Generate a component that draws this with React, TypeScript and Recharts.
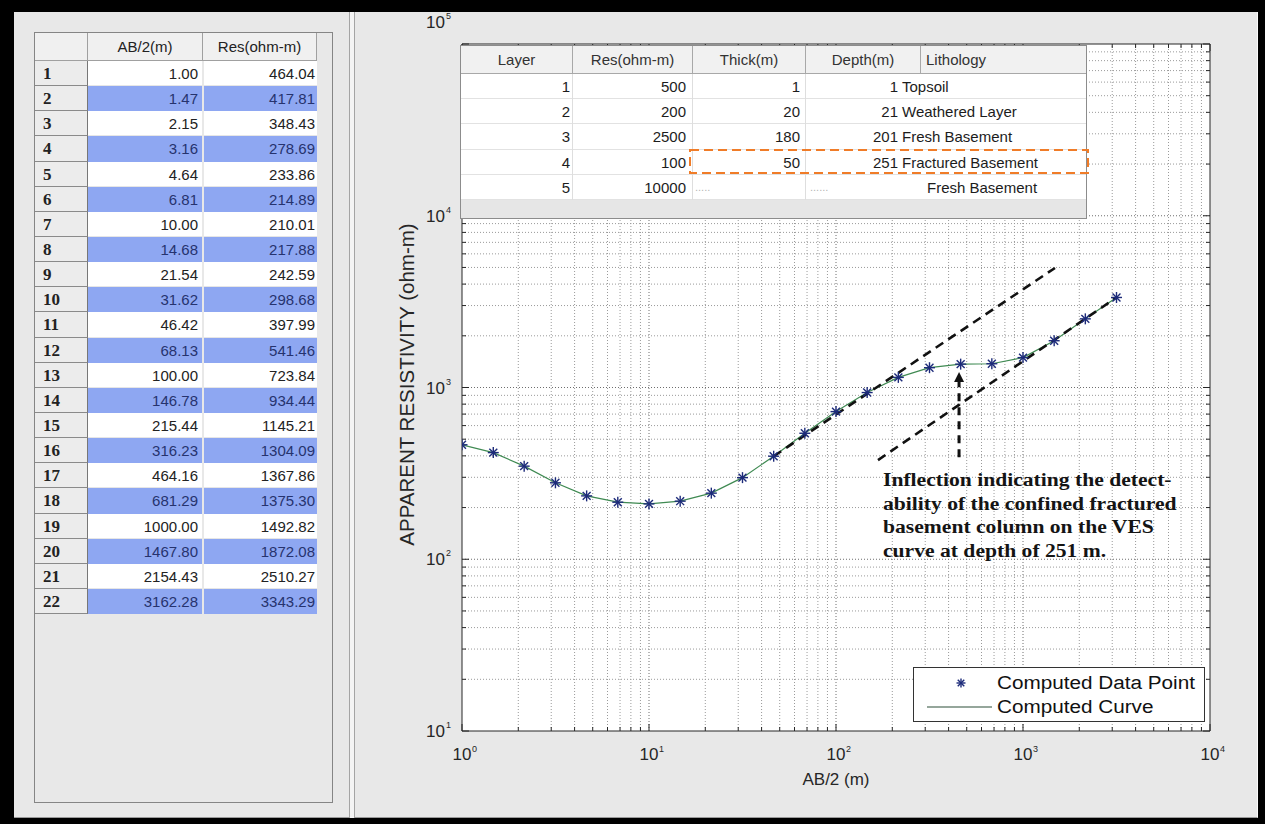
import React from 'react';
import {
  ComposedChart,
  Line,
  Scatter,
  XAxis,
  YAxis,
  ReferenceLine,
  ReferenceArea,
  ReferenceDot,
  CartesianGrid,
  Legend,
} from 'recharts';

// ---------------- data ----------------
const AB2 = [1.0, 1.47, 2.15, 3.16, 4.64, 6.81, 10.0, 14.68, 21.54, 31.62, 46.42, 68.13, 100.0, 146.78, 215.44, 316.23, 464.16, 681.29, 1000.0, 1467.8, 2154.43, 3162.28];
const RES = [464.04, 417.81, 348.43, 278.69, 233.86, 214.89, 210.01, 217.88, 242.59, 298.68, 397.99, 541.46, 723.84, 934.44, 1145.21, 1304.09, 1367.86, 1375.3, 1492.82, 1872.08, 2510.27, 3343.29];

const X_TICKS = [1, 10, 100, 1000, 10000];
const Y_TICKS = [10, 100, 1000, 10000, 100000];
const X_DECADES = [1, 10, 100, 1000];
const Y_DECADES = [10, 100, 1000, 10000];
const MINOR_MULTS = [2, 3, 4, 5, 6, 7, 8, 9];

const TABLE_HEADERS = ['AB/2(m)', 'Res(ohm-m)'];

const LAYER_HEADERS = ['Layer', 'Res(ohm-m)', 'Thick(m)', 'Depth(m)', 'Lithology'];
const LAYER_NO = ['1', '2', '3', '4', '5'];
const LAYER_RES = ['500', '200', '2500', '100', '10000'];
const LAYER_THICK = ['1', '20', '180', '50', ''];
const LAYER_DEPTH = ['1', '21', '201', '251', ''];
const LAYER_LITHO = ['Topsoil', 'Weathered Layer', 'Fresh Basement', 'Fractured Basement', 'Fresh Basement'];

const TREND_UPPER = [{ x: 46.42, y: 398 }, { x: 1483, y: 4966 }];
const TREND_LOWER = [{ x: 167.7, y: 378 }, { x: 3162.28, y: 3343.29 }];
const ARROW_X = 455;
const ARROW_FROM = 393;
const ARROW_TO = 1231;

const NOTE_LINES = [
  'Inflection indicating the detect-',
  'ability of the confined fractured',
  'basement column on the VES',
  'curve at depth of 251 m.',
];
const LEGEND_NAMES = ['Computed Data Point', 'Computed Curve'];
const X_LABEL = 'AB/2 (m)';
const Y_LABEL = 'APPARENT RESISTIVITY (ohm-m)';

const chartData = AB2.map((x, i) => ({ x, y: RES[i] }));

// ---------------- styles ----------------
const SANS = "'Liberation Sans', Arial, Helvetica, sans-serif";
const SERIF = "'Liberation Serif', 'Times New Roman', serif";
const AXIS_COLOR = '#262626';
const CURVE_COLOR = '#3f8a52';
const MARKER_COLOR = '#1d2b7a';
const PANEL_BG = '#e8e8e8';
const BLUE_ROW = '#8ea7f2';

// tick mark lengths expressed as ratios on the log scales
const Y_PX_PER_DEC = 171.75;
const X_PX_PER_DEC = 187;
const tx = (px: number) => Math.pow(10, px / Y_PX_PER_DEC);
const ty = (px: number) => Math.pow(10, px / X_PX_PER_DEC);

const minorX = X_DECADES.flatMap((d) => MINOR_MULTS.map((m) => d * m));
const minorY = Y_DECADES.flatMap((d) => MINOR_MULTS.map((m) => d * m));

const Asterisk = ({ cx, cy, r = 5.5, color = MARKER_COLOR }: any) => {
  if (cx == null || cy == null) return null;
  const d = r * 0.72;
  return (
    <g stroke={color} strokeWidth={1.4}>
      <line x1={cx - r} y1={cy} x2={cx + r} y2={cy} />
      <line x1={cx} y1={cy - r} x2={cx} y2={cy + r} />
      <line x1={cx - d} y1={cy - d} x2={cx + d} y2={cy + d} />
      <line x1={cx - d} y1={cy + d} x2={cx + d} y2={cy - d} />
    </g>
  );
};

const XTick = (props: any) => {
  const { x, y, payload } = props;
  const e = Math.round(Math.log10(payload.value));
  return (
    <g fill={AXIS_COLOR} fontFamily={SANS}>
      <text x={x} y={y + 29} textAnchor="middle" fontSize={17}>10</text>
      <text x={x + 10} y={y + 21} fontSize={9}>{e}</text>
    </g>
  );
};

const YTick = (props: any) => {
  const { x, y, payload } = props;
  const e = Math.round(Math.log10(payload.value));
  const shift = e === 5 ? -22 : 0;
  return (
    <g fill={AXIS_COLOR} fontFamily={SANS}>
      <text x={x - 17} y={y + 6 + shift} textAnchor="end" fontSize={17}>10</text>
      <text x={x - 16} y={y - 3 + shift} fontSize={9}>{e}</text>
    </g>
  );
};

const LegendBox = () => (
  <div
    style={{
      width: 292,
      height: 55,
      background: '#fff',
      border: '1px solid #333',
      boxSizing: 'border-box',
      position: 'relative',
      fontFamily: SANS,
      fontSize: 18,
      color: '#111',
    }}
  >
    <svg width={80} height={53} style={{ position: 'absolute', left: 0, top: 0 }}>
      <Asterisk cx={47} cy={15} r={4.5} />
      <line x1={13} y1={39} x2={78} y2={39} stroke="#2d4f38" strokeWidth={1.2} />
    </svg>
    <div style={{ position: 'absolute', left: 83, top: 4, whiteSpace: 'nowrap', transform: 'scaleX(1.15)', transformOrigin: 'left center', lineHeight: '22px' }}>
      {LEGEND_NAMES[0]}
    </div>
    <div style={{ position: 'absolute', left: 83, top: 28, whiteSpace: 'nowrap', transform: 'scaleX(1.15)', transformOrigin: 'left center', lineHeight: '22px' }}>
      {LEGEND_NAMES[1]}
    </div>
  </div>
);

// ---------------- left data table ----------------
const ROW_H = 25.14;
const DataTable = () => (
  <div style={{ position: 'absolute', left: 34, top: 32, width: 299, height: 771, border: '1px solid #858585', boxSizing: 'border-box', background: PANEL_BG }}>
    {/* header */}
    <div style={{ position: 'absolute', left: 0, top: 0, width: 53, height: 28, background: '#f0f0f0', borderRight: '1px solid #a0a0a0', borderBottom: '1px solid #a0a0a0', boxSizing: 'border-box' }} />
    {TABLE_HEADERS.map((h, j) => (
      <div
        key={h}
        style={{
          position: 'absolute',
          left: j === 0 ? 53 : 168,
          top: 0,
          width: j === 0 ? 115 : 114,
          height: 28,
          background: '#f0f0f0',
          borderRight: '1px solid #a0a0a0',
          borderBottom: '1px solid #a0a0a0',
          boxSizing: 'border-box',
          textAlign: 'center',
          lineHeight: '28px',
          fontFamily: SANS,
          fontSize: 15,
          color: '#222',
        }}
      >
        {h}
      </div>
    ))}
    {AB2.map((v, i) => {
      const blue = i % 2 === 1;
      const top = 28 + i * ROW_H;
      const txtColor = blue ? '#26336e' : '#222';
      return (
        <React.Fragment key={i}>
          <div
            style={{
              position: 'absolute',
              left: 0,
              top,
              width: 53,
              height: ROW_H,
              background: '#ececec',
              borderRight: '1px solid #777',
              borderBottom: '1px solid #8a8a8a',
              boxSizing: 'border-box',
              fontFamily: SERIF,
              fontWeight: 'bold',
              fontSize: 17,
              lineHeight: `${ROW_H}px`,
              paddingLeft: 8,
              color: '#222',
            }}
          >
            {i + 1}
          </div>
          <div
            style={{
              position: 'absolute',
              left: 53,
              top,
              width: 114,
              height: ROW_H,
              background: blue ? BLUE_ROW : '#fff',
              borderBottom: blue ? 'none' : '1px solid #e6e6e6',
              boxSizing: 'border-box',
              textAlign: 'right',
              paddingRight: 4,
              fontFamily: SANS,
              fontSize: 15,
              lineHeight: `${ROW_H}px`,
              color: txtColor,
            }}
          >
            {v.toFixed(2)}
          </div>
          <div
            style={{
              position: 'absolute',
              left: 169,
              top,
              width: 113,
              height: ROW_H,
              background: blue ? BLUE_ROW : '#fff',
              borderBottom: blue ? 'none' : '1px solid #e6e6e6',
              boxSizing: 'border-box',
              textAlign: 'right',
              paddingRight: 2,
              fontFamily: SANS,
              fontSize: 15,
              lineHeight: `${ROW_H}px`,
              color: txtColor,
            }}
          >
            {RES[i].toFixed(2)}
          </div>
        </React.Fragment>
      );
    })}
  </div>
);

// ---------------- inset layer table ----------------
const COLS = [0, 112, 232, 345, 460, 627];
const L_ROW_H = 25.2;
const LayerTable = () => (
  <div style={{ position: 'absolute', left: 460, top: 45, width: 627, height: 174, background: '#e6e6e6', border: '1px solid #8c8c8c', boxSizing: 'border-box', overflow: 'hidden', fontFamily: SANS, color: '#1c1c1c' }}>
    {LAYER_HEADERS.map((h, j) => (
      <div
        key={h}
        style={{
          position: 'absolute',
          left: COLS[j],
          top: 0,
          width: COLS[j + 1] - COLS[j],
          height: 28,
          background: '#f1f1f1',
          borderRight: j < 4 ? '1px solid #a8a8a8' : 'none',
          borderBottom: '1px solid #a8a8a8',
          boxSizing: 'border-box',
          textAlign: j === 4 ? 'left' : 'center',
          paddingLeft: j === 4 ? 5 : 0,
          lineHeight: '28px',
          fontSize: 15,
          color: '#333',
        }}
      >
        {h}
      </div>
    ))}
    {LAYER_NO.map((n, i) => {
      const top = 28 + i * L_ROW_H;
      const cell = (left: number, width: number, extra: any, content: any) => (
        <div style={{ position: 'absolute', left, top, width, height: L_ROW_H, lineHeight: `${L_ROW_H}px`, fontSize: 15, whiteSpace: 'nowrap', boxSizing: 'border-box', ...extra }}>
          {content}
        </div>
      );
      return (
        <React.Fragment key={n}>
          <div style={{ position: 'absolute', left: 0, top, width: 627, height: L_ROW_H, background: '#fff', borderBottom: '1px solid #e2e2e2', boxSizing: 'border-box' }} />
          {[112, 232, 345].map((c) => (
            <div key={c} style={{ position: 'absolute', left: c - 1, top, width: 1, height: L_ROW_H, background: '#dedede' }} />
          ))}
          {cell(0, 112, { textAlign: 'right', paddingRight: 3 }, n)}
          {cell(112, 120, { textAlign: 'right', paddingRight: 7 }, LAYER_RES[i])}
          {LAYER_THICK[i]
            ? cell(232, 113, { textAlign: 'right', paddingRight: 6 }, LAYER_THICK[i])
            : cell(232, 113, { textAlign: 'left', paddingLeft: 2, color: '#b5b5b5', fontSize: 11 }, '.....')}
          {LAYER_DEPTH[i]
            ? cell(345, 92, { textAlign: 'right' }, LAYER_DEPTH[i])
            : cell(345, 92, { textAlign: 'left', paddingLeft: 4, color: '#b5b5b5', fontSize: 11 }, '......')}
          {cell(LAYER_DEPTH[i] ? 441 : 466, 186, { textAlign: 'left' }, LAYER_LITHO[i])}
        </React.Fragment>
      );
    })}
  </div>
);

const OrangeBox = () => (
  <svg width={1265} height={824} style={{ position: 'absolute', left: 0, top: 0, pointerEvents: 'none' }}>
    <rect x={690} y={150} width={398} height={23} fill="none" stroke="#f07c28" strokeWidth={2} strokeDasharray="9 5" />
  </svg>
);

export default function App() {
  const gridX = [...X_TICKS.slice(1, -1), ...minorX];
  const gridY = [...Y_TICKS.slice(1, -1), ...minorY];
  const majX = tx(7), minX = tx(4);
  const majY = ty(7), minY = ty(4);

  return (
    <div style={{ position: 'absolute', left: 0, top: 0, width: 1265, height: 824, background: '#000', overflow: 'hidden' }}>
      {/* left panel */}
      <div style={{ position: 'absolute', left: 14, top: 12, width: 336, height: 806, background: PANEL_BG, borderRight: '1px solid #a4a4a4', borderBottom: '1px solid #9a9a9a', boxSizing: 'border-box' }} />
      <div style={{ position: 'absolute', left: 350, top: 12, width: 4, height: 806, background: '#f4f4f4' }} />
      {/* right panel */}
      <div style={{ position: 'absolute', left: 354, top: 12, width: 904, height: 806, background: PANEL_BG, borderLeft: '1px solid #a4a4a4', borderBottom: '1px solid #9a9a9a', borderRight: '1px solid #fafafa', boxSizing: 'border-box' }} />

      <DataTable />

      <div style={{ position: 'absolute', left: 358, top: 12 }}>
        <ComposedChart width={900} height={805} data={chartData} margin={{ top: 32, right: 48, left: 0, bottom: 26 }}>
          <CartesianGrid fill="#ffffff" stroke="none" horizontal={false} vertical={false} />
          <XAxis
            dataKey="x"
            type="number"
            scale="log"
            domain={[1, 10000]}
            ticks={X_TICKS}
            allowDataOverflow
            height={60}
            tickSize={0}
            tickMargin={0}
            axisLine={false}
            tickLine={false}
            tick={<XTick />}
            interval={0}
            label={{
              content: (p: any) => {
                const vb = p.viewBox || { x: 104, y: 719, width: 748 };
                return (
                  <text x={vb.x + vb.width / 2} y={vb.y + 54} textAnchor="middle" fontSize={17} fontFamily={SANS} fill={AXIS_COLOR}>
                    {X_LABEL}
                  </text>
                );
              },
            }}
          />
          <YAxis
            dataKey="y"
            type="number"
            scale="log"
            domain={[10, 100000]}
            ticks={Y_TICKS}
            allowDataOverflow
            width={104}
            tickSize={0}
            tickMargin={0}
            axisLine={false}
            tickLine={false}
            tick={<YTick />}
            interval={0}
            label={{
              content: (p: any) => {
                const vb = p.viewBox || { x: 0, y: 32, height: 687 };
                const cx = vb.x + 56;
                const cy = vb.y + vb.height / 2 - 3;
                return (
                  <text x={cx} y={cy} transform={`rotate(-90 ${cx} ${cy})`} textAnchor="middle" fontSize={20.5} fontFamily={SANS} fill={AXIS_COLOR}>
                    {Y_LABEL}
                  </text>
                );
              },
            }}
          />

          {/* dotted log grid */}
          {gridX.map((v) => (
            <ReferenceLine key={`gx${v}`} x={v} stroke={X_TICKS.includes(v) ? '#6e6e6e' : '#9a9a9a'} strokeDasharray="1 2" strokeWidth={1} ifOverflow="visible" />
          ))}
          {gridY.map((v) => (
            <ReferenceLine key={`gy${v}`} y={v} stroke={Y_TICKS.includes(v) ? '#6e6e6e' : '#9a9a9a'} strokeDasharray="1 2" strokeWidth={1} ifOverflow="visible" />
          ))}

          {/* inward tick marks */}
          {[...X_TICKS, ...minorX].map((v) => {
            const f = X_TICKS.includes(v) ? majX : minX;
            return (
              <React.Fragment key={`tx${v}`}>
                <ReferenceLine segment={[{ x: v, y: 10 }, { x: v, y: 10 * f }]} stroke={AXIS_COLOR} ifOverflow="visible" />
                <ReferenceLine segment={[{ x: v, y: 100000 / f }, { x: v, y: 100000 }]} stroke={AXIS_COLOR} ifOverflow="visible" />
              </React.Fragment>
            );
          })}
          {[...Y_TICKS, ...minorY].map((v) => {
            const f = Y_TICKS.includes(v) ? majY : minY;
            return (
              <React.Fragment key={`ty${v}`}>
                <ReferenceLine segment={[{ x: 1, y: v }, { x: f, y: v }]} stroke={AXIS_COLOR} ifOverflow="visible" />
                <ReferenceLine segment={[{ x: 10000 / f, y: v }, { x: 10000, y: v }]} stroke={AXIS_COLOR} ifOverflow="visible" />
              </React.Fragment>
            );
          })}

          <ReferenceArea x1={1} x2={10000} y1={10} y2={100000} fill="none" stroke={AXIS_COLOR} strokeWidth={1} ifOverflow="visible" />

          <Line name={LEGEND_NAMES[1]} dataKey="y" type="linear" stroke={CURVE_COLOR} strokeWidth={1.2} dot={false} activeDot={false} isAnimationActive={false} />
          <Scatter name={LEGEND_NAMES[0]} dataKey="y" fill={MARKER_COLOR} shape={(p: any) => <Asterisk cx={p.cx} cy={p.cy} />} isAnimationActive={false} />

          {/* interpretation lines */}
          <ReferenceLine segment={TREND_UPPER} stroke="#111" strokeWidth={2.6} strokeDasharray="9 6" ifOverflow="visible" />
          <ReferenceLine segment={TREND_LOWER} stroke="#111" strokeWidth={2.6} strokeDasharray="9 6" ifOverflow="visible" />
          <ReferenceLine segment={[{ x: ARROW_X, y: ARROW_FROM }, { x: ARROW_X, y: ARROW_TO * 0.93 }]} stroke="#111" strokeWidth={3} strokeDasharray="8 6" ifOverflow="visible" />
          <ReferenceDot
            x={ARROW_X}
            y={ARROW_TO}
            r={5}
            ifOverflow="visible"
            shape={(p: any) => <path d={`M${p.cx},${p.cy} L${p.cx - 5},${p.cy + 10} L${p.cx + 5},${p.cy + 10} Z`} fill="#111" />}
          />

          <Legend
            layout="horizontal"
            verticalAlign="middle"
            align="center"
            content={() => <LegendBox />}
            wrapperStyle={{ position: 'absolute', left: 555, top: 655, width: 292, height: 55 }}
          />
        </ComposedChart>
      </div>

      <LayerTable />
      <OrangeBox />

      {/* annotation */}
      <div style={{ position: 'absolute', left: 883, top: 469, fontFamily: SERIF, fontWeight: 'bold', fontSize: 18, lineHeight: '23.5px', color: '#141414', whiteSpace: 'nowrap', transform: 'scaleX(1.2)', transformOrigin: 'left top' }}>
        {NOTE_LINES.map((l) => (
          <div key={l}>{l}</div>
        ))}
      </div>
    </div>
  );
}
